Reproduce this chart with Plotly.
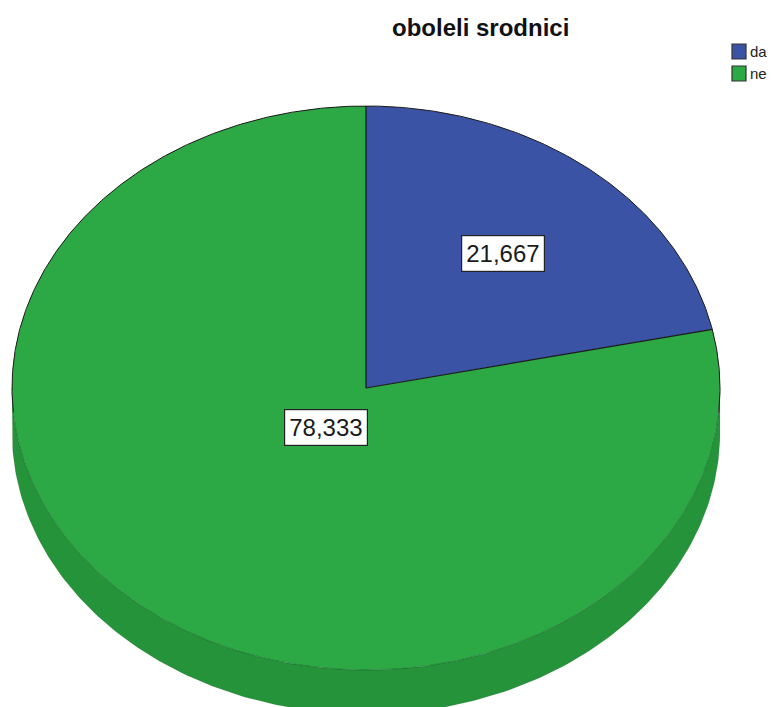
import numpy as np
import plotly.graph_objects as go

# ---- data ----
title_text = "oboleli srodnici"
categories = ["da", "ne"]
values = [21.667, 78.333]          # percentages
slice_colors = ["#3a53a4", "#2ca844"]
side_colors = ["#2c3f7d", "#259339"]
label_radius_frac = [0.615, 0.178]

# ---- geometry (pixel space) ----
W, H = 772, 707
cx, cy = 366.0, 388.0
rx, ry = 354.0, 282.0
depth = 44.0
FONT = "Liberation Sans, Arial, sans-serif"

def ell(t_deg, dy=0.0):
    t = np.radians(t_deg)
    return cx + rx * np.sin(t), cy - ry * np.cos(t) + dy

total = float(sum(values))
angles = np.concatenate([[0.0], np.cumsum(values) / total * 360.0])

fig = go.Figure()

# side walls (visible front half: 90..270 deg)
for i, cat in enumerate(categories):
    a0, a1 = max(angles[i], 90.0), min(angles[i + 1], 270.0)
    if a1 <= a0:
        continue
    ts = np.linspace(a0, a1, 200)
    xt, yt = ell(ts)
    xb, yb = ell(ts[::-1], depth)
    xs = np.concatenate([xt, xb, xt[:1]])
    ys = np.concatenate([yt, yb, yt[:1]])
    fig.add_trace(go.Scatter(x=xs, y=ys, mode="lines", fill="toself",
                             fillcolor=side_colors[i],
                             line=dict(color="rgba(0,0,0,0.15)", width=0.6),
                             hoverinfo="skip", showlegend=False))

# top face slices (fill only)
for i, cat in enumerate(categories):
    ts = np.linspace(angles[i], angles[i + 1], 300)
    xe, ye = ell(ts)
    xs = np.concatenate([[cx], xe, [cx]])
    ys = np.concatenate([[cy], ye, [cy]])
    fig.add_trace(go.Scatter(x=xs, y=ys, mode="lines", fill="toself",
                             fillcolor=slice_colors[i],
                             line=dict(color="rgba(0,0,0,0)", width=0),
                             name=cat, hoverinfo="skip", showlegend=False))

# outlines: dark upper rim + radial edges, faint lower rim
ts_up = np.linspace(-95, 95, 400)
xu, yu = ell(ts_up)
fig.add_trace(go.Scatter(x=xu, y=yu, mode="lines", line=dict(color="#1a1a1a", width=1),
                         hoverinfo="skip", showlegend=False))
ts_lo = np.linspace(95, 265, 400)
xl, yl = ell(ts_lo)
fig.add_trace(go.Scatter(x=xl, y=yl, mode="lines", line=dict(color="rgba(0,60,20,0.35)", width=1),
                         hoverinfo="skip", showlegend=False))
for a in angles[:-1]:
    ex, ey = ell(a)
    fig.add_trace(go.Scatter(x=[cx, ex], y=[cy, ey], mode="lines",
                             line=dict(color="#1a1a1a", width=1.2),
                             hoverinfo="skip", showlegend=False))

# value labels
for i, cat in enumerate(categories):
    mid = (angles[i] + angles[i + 1]) / 2.0
    t = np.radians(mid)
    f = label_radius_frac[i]
    lx = cx + f * rx * np.sin(t)
    ly = cy - f * ry * np.cos(t)
    txt = f"{values[i]:.3f}".replace(".", ",")
    fig.add_annotation(x=lx, y=ly, xref="x", yref="y", text=txt, showarrow=False,
                       font=dict(family=FONT, size=24, color="#1a1a1a"),
                       bgcolor="white", bordercolor="#222222", borderwidth=1.2,
                       borderpad=4, xanchor="center", yanchor="middle")

# title
fig.add_annotation(x=480, y=27, xref="x", yref="y", text=f"<b>{title_text}</b>",
                   showarrow=False, font=dict(family=FONT, size=24, color="#111111"),
                   xanchor="center", yanchor="middle")

# legend (manual)
for i, cat in enumerate(categories):
    y0 = 44 + i * 22
    fig.add_shape(type="rect", xref="x", yref="y", x0=732, x1=746, y0=y0, y1=y0 + 15,
                  fillcolor=slice_colors[i], line=dict(color="#333333", width=1.2))
    fig.add_annotation(x=748, y=y0 + 7.5, xref="x", yref="y", text=cat, showarrow=False,
                       font=dict(family=FONT, size=15, color="#222222"),
                       xanchor="left", yanchor="middle")

fig.update_layout(
    width=W, height=H, margin=dict(l=0, r=0, t=0, b=0),
    paper_bgcolor="white", plot_bgcolor="white",
    xaxis=dict(range=[0, W], visible=False, fixedrange=True),
    yaxis=dict(range=[H, 0], visible=False, fixedrange=True),
    showlegend=False,
)

fig.write_html("out.html")
